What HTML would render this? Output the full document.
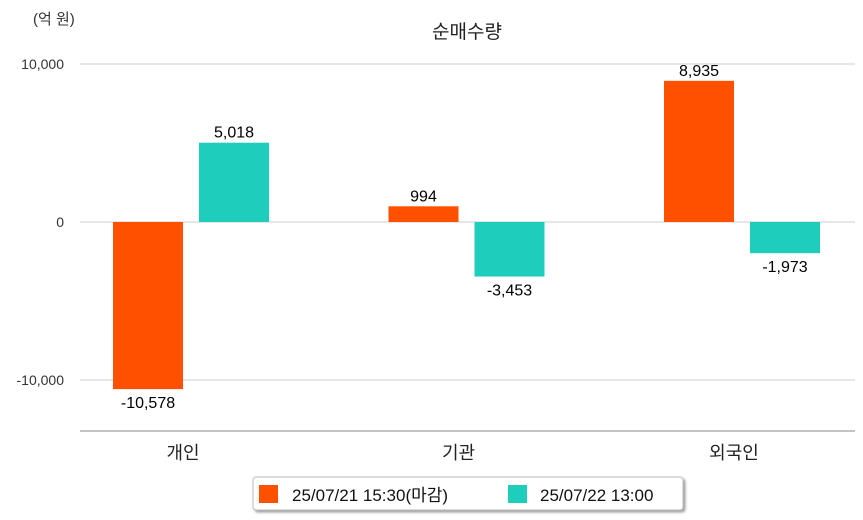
<!DOCTYPE html>
<html><head><meta charset="utf-8">
<style>
body{margin:0;background:#fff;width:863px;height:520px;overflow:hidden}
svg{display:block;font-family:"Liberation Sans","Noto Sans CJK KR",sans-serif}
</style></head>
<body>
<svg id="chart" width="863" height="520" viewBox="0 0 863 520">
<defs><filter id="sh" x="-5%" y="-20%" width="110%" height="160%"><feDropShadow dx="2" dy="2" stdDeviation="1.2" flood-color="#777" flood-opacity="0.7"/></filter></defs>
<text x="33" y="24" font-size="15" fill="#333">(억 원)</text>
<text x="467" y="38" font-size="19" fill="#222" text-anchor="middle">순매수량</text>
<g id="grid"></g>
<g id="bars"></g>
<line x1="80" y1="431" x2="855" y2="431" stroke="#888" stroke-width="1"/>
<g>
<rect x="253" y="477" width="430" height="33" rx="3" fill="#fff" stroke="#bbb" filter="url(#sh)"/>
<rect x="259" y="485" width="19" height="18" fill="#ff5000"/>
<text x="292" y="501" font-size="17" fill="#111">25/07/21 15:30(마감)</text>
<rect x="508" y="485" width="19" height="18" fill="#1ecdbc"/>
<text x="540" y="501" font-size="17" fill="#111">25/07/22 13:00</text>
</g>
</svg>
<script>
const categories=["개인","기관","외국인"];
const series1=[-10578,994,8935];
const series2=[5018,-3453,-1973];
const tickValues=[10000,0,-10000];
const tickLabels=["10,000","0","-10,000"];
const NS="http://www.w3.org/2000/svg";
function y(v){return 222-v*0.0158;}
function cx(i){return 191+i*275.5;}
function mk(tag,attrs,parent){const e=document.createElementNS(NS,tag);for(const k in attrs)e.setAttribute(k,attrs[k]);parent.appendChild(e);return e;}
const grid=document.getElementById('grid'),bars=document.getElementById('bars');
tickValues.forEach((v,i)=>{
 const l=mk('line',{x1:80,x2:855,y1:y(v),y2:y(v),stroke:'#ccc','stroke-width':1},grid);
 
 
 const t=mk('text',{x:64,y:y(v)+5,'font-size':14,fill:'#333','text-anchor':'end'},grid);
 t.textContent=tickLabels[i];
 
 
});
function fmt(v){return v.toLocaleString('en-US');}
function bar(v,x,color){
 const top=Math.min(y(0),y(v)),h=Math.abs(y(v)-y(0));
 const r=mk('rect',{x:x,y:top,width:70,height:h,fill:color},bars);
 
 
 const ty=v>=0?y(v)-5:y(v)+19;
 const t=mk('text',{x:x+35,y:ty,'font-size':16,fill:'#000','text-anchor':'middle'},bars);
 t.textContent=fmt(v);
 
 
}
categories.forEach((c,i)=>{
 bar(series1[i],cx(i)-78,'#ff5000');
 bar(series2[i],cx(i)+8,'#1ecdbc');
 const t=mk('text',{x:cx(i)-8,y:459,'font-size':18,fill:'#222','text-anchor':'middle'},bars);
 t.textContent=c;
 
 
});
</script>
</body></html>
